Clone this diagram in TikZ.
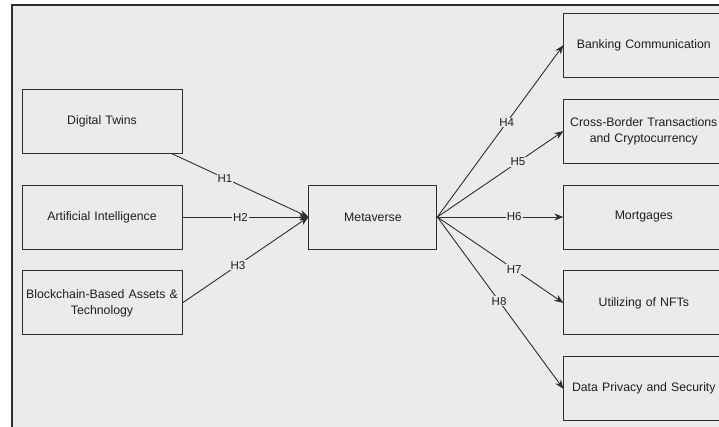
\documentclass[tikz,border=0pt]{standalone}
\usepackage{fontspec}
\setmainfont{Liberation Sans}
\usetikzlibrary{arrows.meta,positioning}
\definecolor{panelgray}{HTML}{EBEBEB}
\definecolor{linegray}{HTML}{2E2E2E}
\definecolor{textgray}{HTML}{1E1E1E}

\begin{document}
\begin{tikzpicture}[
    font=\fontsize{12.3}{16}\selectfont, text=textgray,
    node distance=21pt and 126pt,
    factor/.style={draw=linegray, line width=0.9pt, minimum width=160pt, minimum height=64pt,
        text width=156pt, align=center, inner sep=2pt},
    hub/.style={factor, minimum width=128pt, text width=124pt},
    link/.style={draw=linegray, line width=0.9pt, -{Stealth[length=9pt,width=7pt]}},
    hyp/.style={fill=panelgray, inner sep=1pt, font=\fontsize{11.5}{13}\selectfont}
  ]
  \useasboundingbox (-102pt,217pt) rectangle (617pt,-209pt);
  \draw[line width=2pt, draw=linegray, fill=panelgray] (-90pt,212pt) rectangle (640pt,-240pt);

  % independent variables
  \node[factor] (ai) at (0,0) {Artificial Intelligence};
  \node[factor, above=31pt of ai] (twins) {Digital Twins};
  \node[factor, below=of ai] (chain) {Blockchain-Based Assets \&\\ Technology};

  \node[hub, right=of ai] (meta) {Metaverse};

  % outcomes
  \node[factor, right=of meta] (mortgage) {Mortgages};
  \node[factor, above=of mortgage] (cross) {Cross-Border Transactions\\ and Cryptocurrency};
  \node[factor, above=of cross] (banking) {Banking Communication};
  \node[factor, below=of mortgage] (nft) {Utilizing of NFTs};
  \node[factor, below=of nft] (privacy) {Data Privacy and Security};

  \draw[link] (twins.-25) -- node[hyp, pos=0.39] {H1} (meta.west);
  \draw[link] (ai.east) -- node[hyp, pos=0.46] {H2} (meta.west);
  \draw[link] (chain.east) -- node[hyp, pos=0.44] {H3} (meta.west);

  \draw[link] (meta.east) -- node[hyp, pos=0.55] {H4} (banking.west);
  \draw[link] (meta.east) -- node[hyp, pos=0.64] {H5} (cross.west);
  \draw[link] (meta.east) -- node[hyp, pos=0.61] {H6} (mortgage.west);
  \draw[link] (meta.east) -- node[hyp, pos=0.61] {H7} (nft.west);
  \draw[link] (meta.east) -- node[hyp, pos=0.49] {H8} (privacy.west);
\end{tikzpicture}
\end{document}
